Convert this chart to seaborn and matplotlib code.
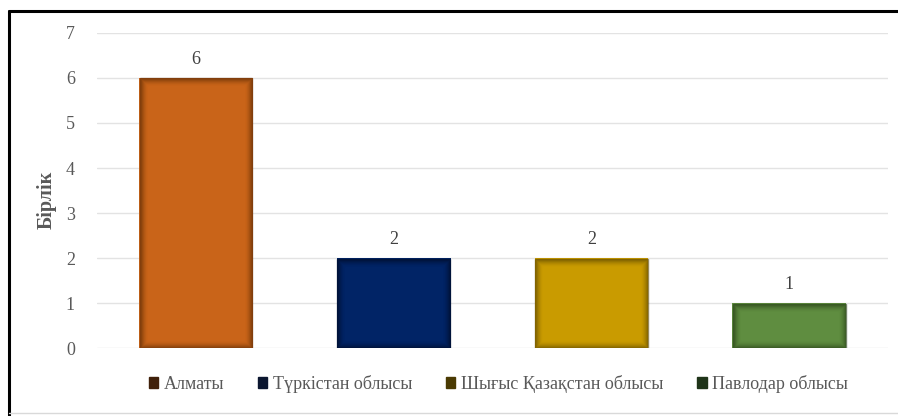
import matplotlib
matplotlib.use("Agg")
import matplotlib.pyplot as plt
import seaborn as sns
import pandas as pd
from matplotlib.patches import Patch, Rectangle
from matplotlib.lines import Line2D

categories = ["Алматы", "Түркістан облысы", "Шығыс Қазақстан облысы", "Павлодар облысы"]
values = [6, 2, 2, 1]
bar_colors = ["#C96419", "#012466", "#C99B00", "#5F8D40"]
edge_colors = ["#5A2A05", "#000A22", "#5A4500", "#243D15"]
legend_colors = ["#40200A", "#0B1630", "#4A3A02", "#1F3419"]
yticks = [0, 1, 2, 3, 4, 5, 6, 7]
ylabel = "Бірлік"

sns.set_theme(style="white")
plt.rcParams["font.family"] = ["Liberation Serif", "DejaVu Serif"]

df = pd.DataFrame({"cat": categories, "val": values})

fig = plt.figure(figsize=(8.98, 4.16), dpi=100)
ax = fig.add_axes([0.108, 0.163, 0.881, 0.758])

sns.barplot(data=df, x="cat", y="val", hue="cat", palette=bar_colors,
            width=0.575, legend=False, ax=ax, zorder=3, saturation=1)

ax.set_ylim(0, 7)
ax.set_xlim(-0.5, 3.5)

# soft inner shadow on each bar
ax_w_px = 0.881 * 898
ax_h_px = 0.758 * 416
px_x = 4.0 / ax_w_px
px_y = 7.0 / ax_h_px
for patch, ec in zip(list(ax.patches), edge_colors):
    patch.set_linewidth(0)
    x0, y0 = patch.get_x(), patch.get_y()
    w, h = patch.get_width(), patch.get_height()
    for k in range(8):
        a = 0.6 * (1 - k / 8) ** 2
        r = Rectangle((x0 + (k + 0.5) * px_x, y0 + (k + 0.5) * px_y),
                      w - (2 * k + 1) * px_x, h - (2 * k + 1) * px_y,
                      fill=False, edgecolor=ec, linewidth=1.0, alpha=a, zorder=4)
        ax.add_patch(r)

ax.set_yticks(yticks)
ax.set_yticklabels([str(t) for t in yticks], color="#595959", fontsize=13)
ax.tick_params(axis="y", length=0, pad=16)
ax.set_xticks([])
ax.set_xlabel("")
ax.set_ylabel(ylabel, fontsize=14.5, fontweight="bold", color="#595959")
ax.yaxis.set_label_coords(-0.051, 0.47)
ax.grid(axis="y", color="#E3E3E3", linewidth=1, zorder=0)
for s in ax.spines.values():
    s.set_visible(False)

for i, v in enumerate(values):
    ax.annotate(str(v), (i, v), xytext=(0, 7), textcoords="offset points",
                ha="center", va="bottom", fontsize=13, color="#404040")

handles = [Patch(facecolor=c, edgecolor=c) for c in legend_colors]
fig.legend(handles, categories, loc="center", bbox_to_anchor=(0.555, 0.077),
           ncol=4, frameon=False, fontsize=13, handlelength=0.5,
           handleheight=0.5, handletextpad=0.3, columnspacing=1.9,
           labelcolor="#595959")

# outer frame: black top and left, light bottom
fig.add_artist(Line2D([0.0095, 1.0], [0.9735, 0.9735], color="black", linewidth=2.2, transform=fig.transFigure))
fig.add_artist(Line2D([0.0095, 0.0095], [0.0, 0.9735], color="black", linewidth=2.2, transform=fig.transFigure))
fig.add_artist(Line2D([0.0095, 1.0], [0.007, 0.007], color="#D9D9D9", linewidth=1, transform=fig.transFigure))

fig.savefig("out.png", dpi=100, facecolor="white")
